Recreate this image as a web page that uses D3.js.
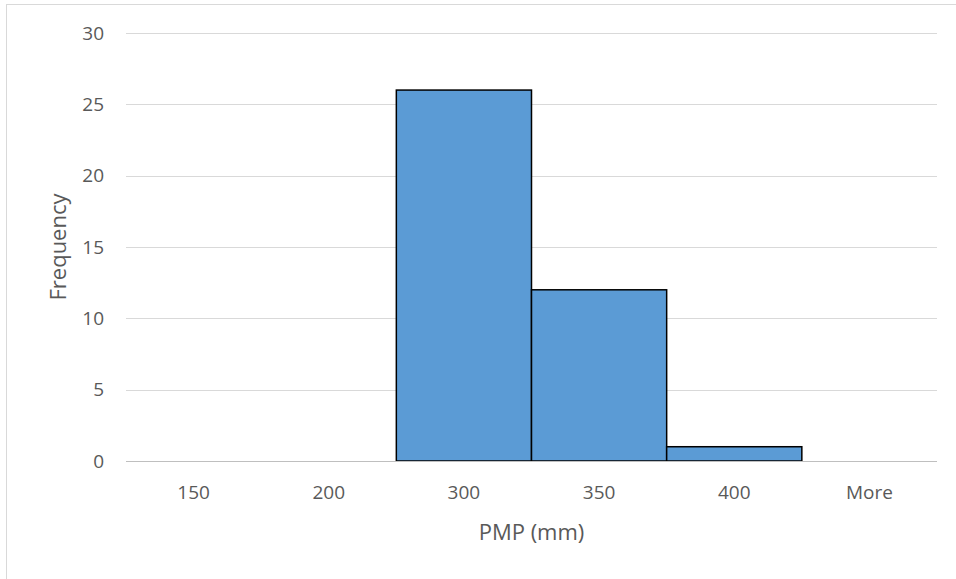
<!DOCTYPE html>
<html>
<head>
<meta charset="utf-8">
<script src="https://cdn.jsdelivr.net/npm/d3@7/dist/d3.min.js"></script>
<style>
  html, body { margin: 0; padding: 0; background: #fff; }
  svg { display: block; }
  text { font-family: "Open Sans", "Noto Sans", "Liberation Sans", sans-serif; fill: #595959; }
</style>
</head>
<body>
<svg id="chart" width="956" height="579"></svg>
<script>
// Histogram bins and their counts
const bins = ["150", "200", "300", "350", "400", "More"];
const counts = [0, 0, 26, 12, 1, 0];
const yTicks = [0, 5, 10, 15, 20, 25, 30];

const svg = d3.select("#chart");
const W = 956, H = 579;
const margin = { left: 126, right: 19, top: 33, bottom: 118 };

// chart frame
svg.append("rect")
  .attr("x", 6.5).attr("y", 4.5)
  .attr("width", W + 10).attr("height", H + 10)
  .attr("fill", "none").attr("stroke", "#d9d9d9").attr("stroke-width", 1);

const x = d3.scaleBand()
  .domain(bins)
  .range([margin.left, W - margin.right])
  .padding(0);

const y = d3.scaleLinear()
  .domain([0, 30])
  .range([H - margin.bottom, margin.top]);

// horizontal gridlines
svg.append("g")
  .selectAll("line")
  .data(yTicks.filter(d => d > 0))
  .join("line")
  .attr("x1", margin.left).attr("x2", W - margin.right)
  .attr("y1", d => Math.round(y(d)) + 0.5).attr("y2", d => Math.round(y(d)) + 0.5)
  .attr("stroke", "#d9d9d9").attr("stroke-width", 1);

// bars
svg.append("g")
  .selectAll("rect")
  .data(bins.map((b, i) => ({ bin: b, count: counts[i] })).filter(d => d.count > 0))
  .join("rect")
  .attr("x", d => x(d.bin))
  .attr("y", d => y(d.count))
  .attr("width", x.bandwidth())
  .attr("height", d => y(0) - y(d.count))
  .attr("fill", "#5b9bd5")
  .attr("stroke", "#000")
  .attr("stroke-width", 1.5);

// baseline
svg.append("line")
  .attr("x1", margin.left).attr("x2", W - margin.right)
  .attr("y1", Math.round(y(0)) + 0.5).attr("y2", Math.round(y(0)) + 0.5)
  .attr("stroke", "#bfbfbf").attr("stroke-width", 1);

// y axis labels
const yAxis = d3.axisLeft(y).tickValues(yTicks).tickSize(0).tickPadding(0);
const gy = svg.append("g")
  .attr("transform", `translate(${margin.left - 22},0)`)
  .call(yAxis);
gy.select(".domain").remove();
gy.selectAll("text")
  .attr("font-size", 19)
  .attr("fill", "#595959")
  .style("font-family", "'Open Sans', 'Noto Sans', sans-serif");

// x axis labels
const xAxis = d3.axisBottom(x).tickSize(0).tickPadding(0);
const gx = svg.append("g")
  .attr("transform", `translate(0,${y(0)})`)
  .call(xAxis);
gx.select(".domain").remove();
gx.selectAll("text")
  .attr("dy", 0)
  .attr("y", 38)
  .attr("font-size", 19)
  .attr("fill", "#595959")
  .style("font-family", "'Open Sans', 'Noto Sans', sans-serif");

// axis titles
svg.append("text")
  .attr("x", (margin.left + W - margin.right) / 2)
  .attr("y", 540)
  .attr("text-anchor", "middle")
  .attr("font-size", 22)
  .text("PMP (mm)");

svg.append("text")
  .attr("transform", `translate(66,${(y(0) + y(30)) / 2}) rotate(-90)`)
  .attr("text-anchor", "middle")
  .attr("font-size", 22)
  .text("Frequency");
</script>
</body>
</html>
